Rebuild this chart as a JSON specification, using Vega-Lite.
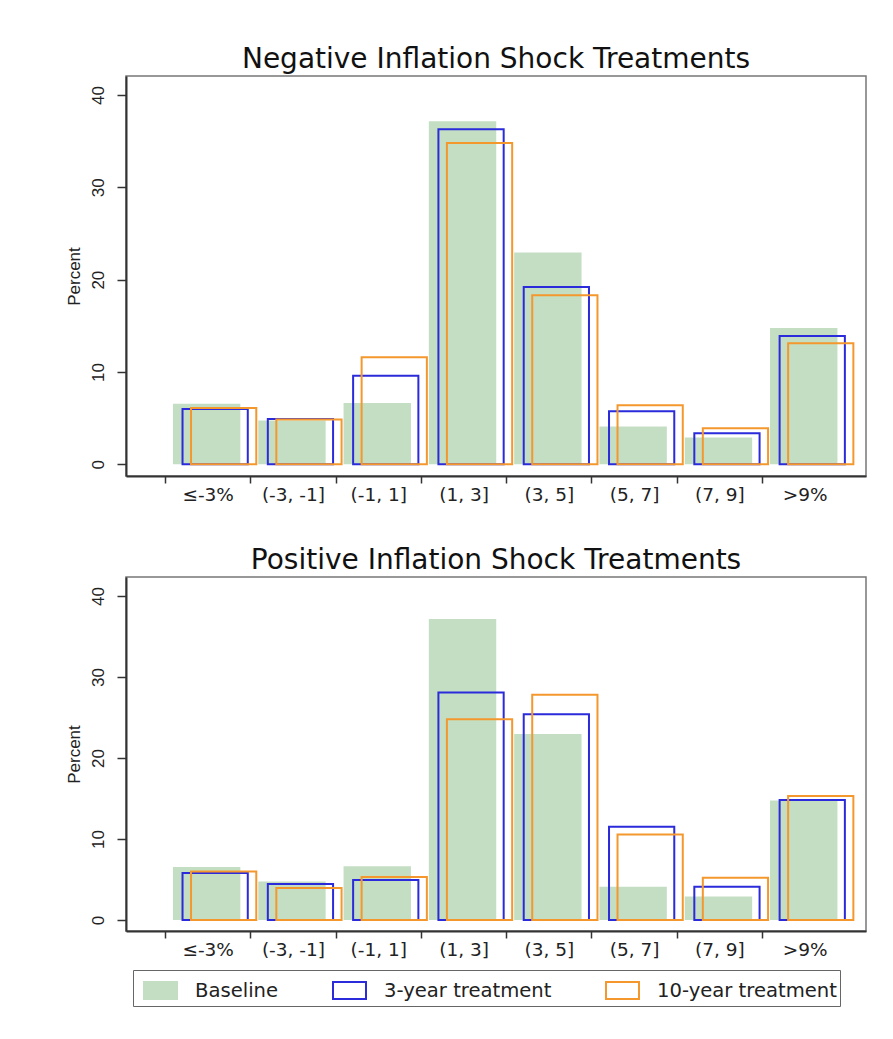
{
  "$schema": "https://vega.github.io/schema/vega-lite/v6.json",
  "background": "white",
  "padding": {"left": 64, "top": 45, "right": 10, "bottom": 5},
  "spacing": 41,
  "config": {
    "view": {"stroke": "#777", "strokeWidth": 1.5},
    "axis": {"grid": false, "domainColor": "#333", "domainWidth": 2, "tickColor": "#333", "labelColor": "#222", "titleColor": "#222"},
    "title": {"font": "DejaVu Sans", "fontSize": 28, "fontWeight": "normal", "color": "#111", "anchor": "middle", "offset": 2}
  },
  "data": {
    "values": [
      {"panel": "neg", "bin": "≤-3%", "series": "Baseline", "pct": 6.55},
      {"panel": "neg", "bin": "(-3, -1]", "series": "Baseline", "pct": 4.75},
      {"panel": "neg", "bin": "(-1, 1]", "series": "Baseline", "pct": 6.65},
      {"panel": "neg", "bin": "(1, 3]", "series": "Baseline", "pct": 37.15},
      {"panel": "neg", "bin": "(3, 5]", "series": "Baseline", "pct": 22.95},
      {"panel": "neg", "bin": "(5, 7]", "series": "Baseline", "pct": 4.1},
      {"panel": "neg", "bin": "(7, 9]", "series": "Baseline", "pct": 2.9},
      {"panel": "neg", "bin": ">9%", "series": "Baseline", "pct": 14.75},
      {"panel": "neg", "bin": "≤-3%", "series": "3-year treatment", "pct": 6.0},
      {"panel": "neg", "bin": "(-3, -1]", "series": "3-year treatment", "pct": 4.9},
      {"panel": "neg", "bin": "(-1, 1]", "series": "3-year treatment", "pct": 9.6},
      {"panel": "neg", "bin": "(1, 3]", "series": "3-year treatment", "pct": 36.3},
      {"panel": "neg", "bin": "(3, 5]", "series": "3-year treatment", "pct": 19.2},
      {"panel": "neg", "bin": "(5, 7]", "series": "3-year treatment", "pct": 5.75},
      {"panel": "neg", "bin": "(7, 9]", "series": "3-year treatment", "pct": 3.35},
      {"panel": "neg", "bin": ">9%", "series": "3-year treatment", "pct": 13.9},
      {"panel": "neg", "bin": "≤-3%", "series": "10-year treatment", "pct": 6.1},
      {"panel": "neg", "bin": "(-3, -1]", "series": "10-year treatment", "pct": 4.85},
      {"panel": "neg", "bin": "(-1, 1]", "series": "10-year treatment", "pct": 11.6},
      {"panel": "neg", "bin": "(1, 3]", "series": "10-year treatment", "pct": 34.8},
      {"panel": "neg", "bin": "(3, 5]", "series": "10-year treatment", "pct": 18.3},
      {"panel": "neg", "bin": "(5, 7]", "series": "10-year treatment", "pct": 6.4},
      {"panel": "neg", "bin": "(7, 9]", "series": "10-year treatment", "pct": 3.9},
      {"panel": "neg", "bin": ">9%", "series": "10-year treatment", "pct": 13.1},
      {"panel": "pos", "bin": "≤-3%", "series": "Baseline", "pct": 6.55},
      {"panel": "pos", "bin": "(-3, -1]", "series": "Baseline", "pct": 4.75},
      {"panel": "pos", "bin": "(-1, 1]", "series": "Baseline", "pct": 6.65},
      {"panel": "pos", "bin": "(1, 3]", "series": "Baseline", "pct": 37.15},
      {"panel": "pos", "bin": "(3, 5]", "series": "Baseline", "pct": 22.95},
      {"panel": "pos", "bin": "(5, 7]", "series": "Baseline", "pct": 4.1},
      {"panel": "pos", "bin": "(7, 9]", "series": "Baseline", "pct": 2.9},
      {"panel": "pos", "bin": ">9%", "series": "Baseline", "pct": 14.75},
      {"panel": "pos", "bin": "≤-3%", "series": "3-year treatment", "pct": 5.8},
      {"panel": "pos", "bin": "(-3, -1]", "series": "3-year treatment", "pct": 4.45},
      {"panel": "pos", "bin": "(-1, 1]", "series": "3-year treatment", "pct": 4.95},
      {"panel": "pos", "bin": "(1, 3]", "series": "3-year treatment", "pct": 28.1},
      {"panel": "pos", "bin": "(3, 5]", "series": "3-year treatment", "pct": 25.4},
      {"panel": "pos", "bin": "(5, 7]", "series": "3-year treatment", "pct": 11.5},
      {"panel": "pos", "bin": "(7, 9]", "series": "3-year treatment", "pct": 4.1},
      {"panel": "pos", "bin": ">9%", "series": "3-year treatment", "pct": 14.8},
      {"panel": "pos", "bin": "≤-3%", "series": "10-year treatment", "pct": 6.0},
      {"panel": "pos", "bin": "(-3, -1]", "series": "10-year treatment", "pct": 3.95},
      {"panel": "pos", "bin": "(-1, 1]", "series": "10-year treatment", "pct": 5.3},
      {"panel": "pos", "bin": "(1, 3]", "series": "10-year treatment", "pct": 24.8},
      {"panel": "pos", "bin": "(3, 5]", "series": "10-year treatment", "pct": 27.8},
      {"panel": "pos", "bin": "(5, 7]", "series": "10-year treatment", "pct": 10.55},
      {"panel": "pos", "bin": "(7, 9]", "series": "10-year treatment", "pct": 5.2},
      {"panel": "pos", "bin": ">9%", "series": "10-year treatment", "pct": 15.3}
    ]
  },
  "resolve": {"scale": {"fill": "shared", "stroke": "shared"}},
  "vconcat": [
    {
      "title": {"text": "Negative Inflation Shock Treatments"},
      "width": 740,
      "height": 400,
      "transform": [{"filter": "datum.panel === 'neg'"}],
      "encoding": {
        "x": {"field": "bin", "type": "nominal", "sort": ["≤-3%", "(-3, -1]", "(-1, 1]", "(1, 3]", "(3, 5]", "(5, 7]", "(7, 9]", ">9%"],
          "scale": {"type": "band", "paddingInner": 0, "paddingOuter": 0.3377, "align": 0.677},
          "axis": {"title": null, "labelAngle": 0, "tickBand": "extent", "tickSize": 7, "tickWidth": 1.5, "labelFont": "DejaVu Sans", "labelFontSize": 18.5, "labelPadding": 2,
            "tickOpacity": {"condition": {"test": "datum.value === '>9%'", "value": 0}, "value": 1}}},
        "y": {"field": "pct", "type": "quantitative", "stack": null,
          "scale": {"domain": [-1.27, 42.06], "nice": false},
          "axis": {"title": "Percent", "values": [0, 10, 20, 30, 40], "labelAngle": -90, "tickSize": 9, "tickWidth": 1.5, "labelPadding": 10, "labelFont": "Liberation Sans", "labelFontSize": 17, "titleFont": "Liberation Sans", "titleFontSize": 17, "titleFontWeight": "normal", "titlePadding": 6}},
        "fill": {"field": "series", "type": "nominal",
          "scale": {"domain": ["Baseline", "3-year treatment", "10-year treatment"], "range": ["#c3dec3", "transparent", "transparent"]},
          "legend": {"title": null, "orient": "none", "legendX": 7, "legendY": 894, "direction": "horizontal", "strokeColor": "#666", "padding": 3, "symbolOffset": 7, "fillColor": "white", "symbolType": "M-1,-0.515H1V0.515H-1Z", "symbolSize": 1089, "symbolStrokeWidth": 2, "labelFont": "DejaVu Sans", "labelFontSize": 19.6, "labelColor": "#222", "labelOffset": 17, "labelLimit": 400, "columnPadding": 46}},
        "stroke": {"field": "series", "type": "nominal",
          "scale": {"domain": ["Baseline", "3-year treatment", "10-year treatment"], "range": ["#c3dec3", "#2b2bdb", "#f4982e"]},
          "legend": {"title": null, "orient": "none", "legendX": 7, "legendY": 894, "direction": "horizontal", "strokeColor": "#666", "padding": 3, "symbolOffset": 7, "fillColor": "white", "symbolType": "M-1,-0.515H1V0.515H-1Z", "symbolSize": 1089, "symbolStrokeWidth": 2, "labelFont": "DejaVu Sans", "labelFontSize": 19.6, "labelColor": "#222", "labelOffset": 17, "labelLimit": 400, "columnPadding": 46}}
      },
      "layer": [
        {"transform": [{"filter": "datum.series === 'Baseline'"}], "mark": {"type": "bar", "width": {"band": 0.79}, "xOffset": -1, "strokeWidth": 0}},
        {"transform": [{"filter": "datum.series === '3-year treatment'"}], "mark": {"type": "bar", "width": {"band": 0.765}, "xOffset": 7.5, "strokeWidth": 2}},
        {"transform": [{"filter": "datum.series === '10-year treatment'"}], "mark": {"type": "bar", "width": {"band": 0.765}, "xOffset": 16, "strokeWidth": 2}}
      ]
    },
    {
      "title": {"text": "Positive Inflation Shock Treatments"},
      "width": 740,
      "height": 354,
      "transform": [{"filter": "datum.panel === 'pos'"}],
      "encoding": {
        "x": {"field": "bin", "type": "nominal", "sort": ["≤-3%", "(-3, -1]", "(-1, 1]", "(1, 3]", "(3, 5]", "(5, 7]", "(7, 9]", ">9%"],
          "scale": {"type": "band", "paddingInner": 0, "paddingOuter": 0.3377, "align": 0.677},
          "axis": {"title": null, "labelAngle": 0, "tickBand": "extent", "tickSize": 7, "tickWidth": 1.5, "labelFont": "DejaVu Sans", "labelFontSize": 18.5, "labelPadding": 2,
            "tickOpacity": {"condition": {"test": "datum.value === '>9%'", "value": 0}, "value": 1}}},
        "y": {"field": "pct", "type": "quantitative", "stack": null,
          "scale": {"domain": [-1.36, 42.35], "nice": false},
          "axis": {"title": "Percent", "values": [0, 10, 20, 30, 40], "labelAngle": -90, "tickSize": 9, "tickWidth": 1.5, "labelPadding": 10, "labelFont": "Liberation Sans", "labelFontSize": 17, "titleFont": "Liberation Sans", "titleFontSize": 17, "titleFontWeight": "normal", "titlePadding": 6}},
        "fill": {"field": "series", "type": "nominal",
          "scale": {"domain": ["Baseline", "3-year treatment", "10-year treatment"], "range": ["#c3dec3", "transparent", "transparent"]}},
        "stroke": {"field": "series", "type": "nominal",
          "scale": {"domain": ["Baseline", "3-year treatment", "10-year treatment"], "range": ["#c3dec3", "#2b2bdb", "#f4982e"]}}
      },
      "layer": [
        {"transform": [{"filter": "datum.series === 'Baseline'"}], "mark": {"type": "bar", "width": {"band": 0.79}, "xOffset": -1, "strokeWidth": 0}},
        {"transform": [{"filter": "datum.series === '3-year treatment'"}], "mark": {"type": "bar", "width": {"band": 0.765}, "xOffset": 7.5, "strokeWidth": 2}},
        {"transform": [{"filter": "datum.series === '10-year treatment'"}], "mark": {"type": "bar", "width": {"band": 0.765}, "xOffset": 16, "strokeWidth": 2}}
      ]
    }
  ]
}
